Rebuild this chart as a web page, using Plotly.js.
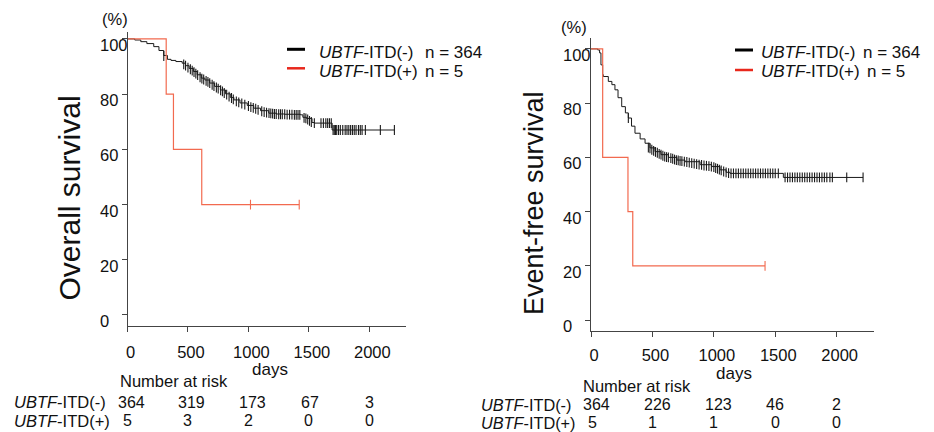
<!DOCTYPE html>
<html>
<head>
<meta charset="utf-8">
<script src="https://cdn.plot.ly/plotly-3.0.1.min.js"></script>
<style>html,body{margin:0;padding:0;background:#fff;}#chart{width:934px;height:432px;}</style>
</head>
<body>
<div id="chart"></div>
<script>
// ---------- DATA ----------
const xTickVals = [0, 500, 1000, 1500, 2000];
const yTickVals = [0, 20, 40, 60, 80, 100];
const groupNeg = '<i>UBTF</i>-ITD(-)';
const groupPos = '<i>UBTF</i>-ITD(+)';
const nNeg = 'n = 364';
const nPos = 'n = 5';

// Overall survival, UBTF-ITD(-) : curve points (days, %)
const osNegT = [0, 60, 110, 160, 217, 260, 300, 330, 360, 400, 452, 480, 510, 545, 576, 610, 640, 680, 720, 768, 810, 850, 880, 930, 990, 1044, 1100, 1168, 1230, 1300, 1430, 1450, 1480, 1526, 1545, 1690, 1692, 2210];
const osNegS = [100, 99.6, 99.0, 98.3, 97.2, 95.8, 94.0, 92.6, 92.2, 91.8, 91.2, 90.3, 89.3, 88.2, 87.0, 85.8, 85.1, 84.0, 82.8, 81.5, 80.1, 78.8, 77.9, 76.8, 75.9, 74.9, 74.0, 73.1, 72.8, 72.7, 72.5, 71.6, 71.2, 69.7, 69.5, 69.5, 67.0, 67.0];
// censor marks
const osNegCT = [300, 465, 480, 500, 520, 535, 550, 565, 580, 600, 615, 630, 650, 665, 680, 700, 715, 735, 750, 770, 785, 800, 820, 840, 860, 875, 900, 920, 945, 970, 1000, 1020, 1040, 1060, 1080, 1110, 1130, 1150, 1170, 1185, 1200, 1215, 1230, 1250, 1265, 1280, 1300, 1320, 1340, 1360, 1380, 1395, 1410, 1425, 1460, 1475, 1490, 1505, 1520, 1545, 1600, 1620, 1640, 1655, 1670, 1685, 1700, 1710, 1720, 1730, 1745, 1760, 1780, 1800, 1815, 1830, 1845, 1860, 1875, 1890, 1910, 1925, 1940, 1967, 2091, 2207];
const osNegCS = [93.8, 90.8, 90.3, 89.6, 89.0, 88.5, 88.0, 87.4, 86.9, 86.1, 85.6, 85.3, 84.8, 84.4, 84.0, 83.4, 82.9, 82.4, 82.0, 81.4, 81.0, 80.4, 79.8, 79.1, 78.6, 78.1, 77.4, 77.0, 76.6, 76.2, 75.7, 75.3, 75.0, 74.7, 74.3, 73.8, 73.5, 73.3, 73.1, 73.0, 72.9, 72.8, 72.8, 72.7, 72.7, 72.7, 72.7, 72.6, 72.6, 72.6, 72.5, 72.5, 72.5, 72.5, 71.4, 71.2, 70.8, 70.3, 69.9, 69.5, 69.5, 69.5, 69.5, 69.5, 69.5, 69.5, 67, 67, 67, 67, 67, 67, 67, 67, 67, 67, 67, 67, 67, 67, 67, 67, 67, 67, 67, 67];

// Overall survival, UBTF-ITD(+)
const osPosT = [0, 320, 380, 614, 1420];
const osPosS = [100, 80, 60, 40, 40];
const osPosCT = [1017, 1420];
const osPosCS = [40, 40];

// Event-free survival, UBTF-ITD(-)
const efsNegT = [0, 55, 70, 81, 95, 100, 141, 170, 195, 220, 250, 280, 304, 330, 358, 400, 440, 480, 521, 570, 630, 700, 765, 888, 983, 1050, 1100, 1132, 1539, 1566, 2215];
const efsNegS = [100, 99.6, 98.5, 94.1, 90.5, 89.8, 88.0, 86.8, 84.9, 82.0, 78.7, 76.4, 74.5, 71.5, 68.9, 66.8, 65.2, 63.5, 62.1, 61.0, 60.0, 59.0, 58.4, 57.3, 56.6, 55.4, 54.5, 54.1, 54.1, 52.6, 52.6];
const efsNegCT = [304, 467, 480, 495, 510, 525, 540, 555, 570, 585, 600, 615, 630, 650, 665, 680, 695, 710, 725, 740, 760, 780, 800, 820, 840, 860, 880, 900, 920, 940, 960, 980, 1000, 1015, 1030, 1045, 1060, 1080, 1100, 1120, 1140, 1160, 1180, 1200, 1220, 1240, 1260, 1280, 1300, 1320, 1340, 1360, 1380, 1400, 1420, 1440, 1460, 1480, 1500, 1525, 1580, 1600, 1620, 1640, 1660, 1680, 1700, 1720, 1740, 1760, 1780, 1800, 1820, 1840, 1860, 1880, 1900, 1920, 1945, 1965, 2082, 2215];
const efsNegCS = [74.5, 63.6, 63.3, 62.8, 62.4, 62.0, 61.7, 61.3, 61.0, 60.6, 60.3, 60.1, 60.0, 59.7, 59.5, 59.2, 59.0, 58.9, 58.7, 58.6, 58.4, 58.3, 58.1, 57.9, 57.7, 57.5, 57.3, 57.2, 57.0, 56.9, 56.8, 56.6, 56.4, 56.0, 55.8, 55.5, 55.2, 54.8, 54.5, 54.2, 54.1, 54.1, 54.1, 54.1, 54.1, 54.1, 54.1, 54.1, 54.1, 54.1, 54.1, 54.1, 54.1, 54.1, 54.1, 54.1, 54.1, 54.1, 54.1, 54.1, 52.6, 52.6, 52.6, 52.6, 52.6, 52.6, 52.6, 52.6, 52.6, 52.6, 52.6, 52.6, 52.6, 52.6, 52.6, 52.6, 52.6, 52.6, 52.6, 52.6, 52.6, 52.6];

// Event-free survival, UBTF-ITD(+)
const efsPosT = [0, 95, 301, 340, 1417];
const efsPosS = [100, 60, 40, 20, 20];
const efsPosCT = [1417];
const efsPosCS = [20];

// Numbers at risk
const riskTimes = [0, 500, 1000, 1500, 2000];
const osRiskNeg = [364, 319, 173, 67, 3];
const osRiskPos = [5, 3, 2, 0, 0];
const efsRiskNeg = [364, 226, 123, 46, 2];
const efsRiskPos = [5, 1, 1, 0, 0];

// ---------- STYLE ----------
const W = 934, H = 432;
const FONT = 'Liberation Sans, Arial, Helvetica, sans-serif';
const BLACK = '#1a1a1a';
const RED = '#f26a4f';
const RED_LEG = '#e8281c';
const AX = '#444444';
const px = v => v / W;
const py = v => 1 - v / H;

function curve(t, s, color, xa, ya, w) {
  return {x: t, y: s, type: 'scatter', mode: 'lines', line: {color: color, width: w, shape: 'hv'},
          xaxis: xa, yaxis: ya, showlegend: false, hoverinfo: 'skip'};
}
function cens(t, s, color, xa, ya) {
  return {x: t, y: s, type: 'scatter', mode: 'markers',
          marker: {symbol: 'line-ns-open', size: 7, color: color, line: {color: color, width: 1.1}},
          xaxis: xa, yaxis: ya, showlegend: false, hoverinfo: 'skip'};
}

const data = [
  curve(osNegT, osNegS, BLACK, 'x', 'y', 1),
  cens(osNegCT, osNegCS, BLACK, 'x', 'y'),
  curve(osPosT, osPosS, RED, 'x', 'y', 1.2),
  cens(osPosCT, osPosCS, RED, 'x', 'y'),
  curve(efsNegT, efsNegS, BLACK, 'x2', 'y2', 1),
  cens(efsNegCT, efsNegCS, BLACK, 'x2', 'y2'),
  curve(efsPosT, efsPosS, RED, 'x2', 'y2', 1.2),
  cens(efsPosCT, efsPosCS, RED, 'x2', 'y2')
];

function xAxis(domain, range, anchor, standoff) {
  return {domain: domain, range: range, anchor: anchor, showline: true, linecolor: AX, linewidth: 1,
          ticks: 'outside', ticklen: 5, tickcolor: AX, tickwidth: 1, tickvals: xTickVals,
          showgrid: false, zeroline: false, tickfont: {family: FONT, size: 16.5, color: '#111'},
          ticklabelshift: 3, ticklabelstandoff: standoff, fixedrange: true};
}
function yAxis(domain, range, anchor) {
  return {domain: domain, range: range, anchor: anchor, showline: true, linecolor: AX, linewidth: 1,
          ticks: 'outside', ticklen: 5, tickcolor: AX, tickwidth: 1, tickvals: yTickVals,
          showticklabels: false, showgrid: false, zeroline: false, fixedrange: true};
}

const ann = [];
function txt(text, x, y, opts, size) {
  ann.push(Object.assign({text: text, x: x, y: y, xref: 'paper', yref: 'paper', showarrow: false,
    xanchor: 'left', yanchor: 'middle', borderpad: 0,
    font: {family: FONT, size: size || 17, color: '#111'}}, opts || {}));
}

// y tick labels (left-aligned, like the reference)
yTickVals.forEach(v => {
  txt(String(v), px(99), v, {yref: 'y', yshift: -6}, 16.5);
  txt(String(v), px(562), v, {yref: 'y2', yshift: -6}, 16.5);
});

// Axis titles
txt('Overall survival', px(69), py(198.5), {xanchor: 'center', textangle: -90}, 30);
txt('Event-free survival', px(534), py(203), {xanchor: 'center', textangle: -90}, 27);
txt('(%)', px(115), py(19.5), {xanchor: 'center'}, 16.5);
txt('(%)', px(574), py(26.7), {xanchor: 'center'}, 16.5);
txt('days', px(270), py(369), {xanchor: 'center'}, 17);
txt('days', px(734), py(373), {xanchor: 'center'}, 17);

// Legends
txt(groupNeg, px(318), py(52.5));
txt(groupPos, px(318), py(71));
txt(nNeg, px(424), py(52.5));
txt(nPos, px(424), py(71));
txt(groupNeg, px(760), py(52.7));
txt(groupPos, px(760), py(71.7));
txt(nNeg, px(862), py(52.7));
txt(nPos, px(866), py(71.7));

// Number at risk tables
const TS = 16;
txt('Number at risk', px(119), py(381), {}, 16.5);
txt(groupNeg, px(13), py(402), {}, 16.5);
txt(groupPos, px(13), py(420.5), {}, 16.5);
txt('Number at risk', px(582), py(386), {}, 16.5);
txt(groupNeg, px(480), py(404.5), {}, 16.3);
txt(groupPos, px(480), py(422.5), {}, 16.3);
riskTimes.forEach((t, i) => {
  txt(String(osRiskNeg[i]), t, py(402), {xref: 'x', xanchor: 'center', xshift: i < 3 ? 4 : (i === 3 ? 1 : 0)}, TS);
  txt(String(osRiskPos[i]), t, py(420.5), {xref: 'x', xanchor: 'center'}, TS);
  txt(String(efsRiskNeg[i]), t, py(404.5), {xref: 'x2', xanchor: 'center', xshift: i < 3 ? 5 : 0}, TS);
  txt(String(efsRiskPos[i]), t, py(422.5), {xref: 'x2', xanchor: 'center', xshift: i === 0 ? 1 : 0}, TS);
});

const shapes = [
  {type: 'line', xref: 'paper', yref: 'paper', x0: px(287), x1: px(305), y0: py(49.3), y1: py(49.3), line: {color: '#000', width: 3}},
  {type: 'line', xref: 'paper', yref: 'paper', x0: px(287), x1: px(305), y0: py(68.3), y1: py(68.3), line: {color: RED_LEG, width: 2.5}},
  {type: 'line', xref: 'paper', yref: 'paper', x0: px(735), x1: px(753), y0: py(50), y1: py(50), line: {color: '#000', width: 3}},
  {type: 'line', xref: 'paper', yref: 'paper', x0: px(735), x1: px(753), y0: py(70), y1: py(70), line: {color: RED_LEG, width: 2.5}}
];

const layout = {
  width: W, height: H, margin: {l: 0, r: 0, t: 0, b: 0},
  paper_bgcolor: '#fff', plot_bgcolor: '#fff',
  font: {family: FONT, size: 16, color: '#111'},
  showlegend: false,
  xaxis: xAxis([px(127.5), px(406)], [0, 2303], 'y', 6),
  yaxis: yAxis([py(326), py(32)], [-4, 102.5], 'x'),
  xaxis2: xAxis([px(591), px(874)], [0, 2304], 'y2', 4),
  yaxis2: yAxis([py(331), py(38)], [-4, 104], 'x2'),
  annotations: ann,
  shapes: shapes
};

Plotly.newPlot('chart', data, layout, {displayModeBar: false, staticPlot: true});
</script>
</body>
</html>
